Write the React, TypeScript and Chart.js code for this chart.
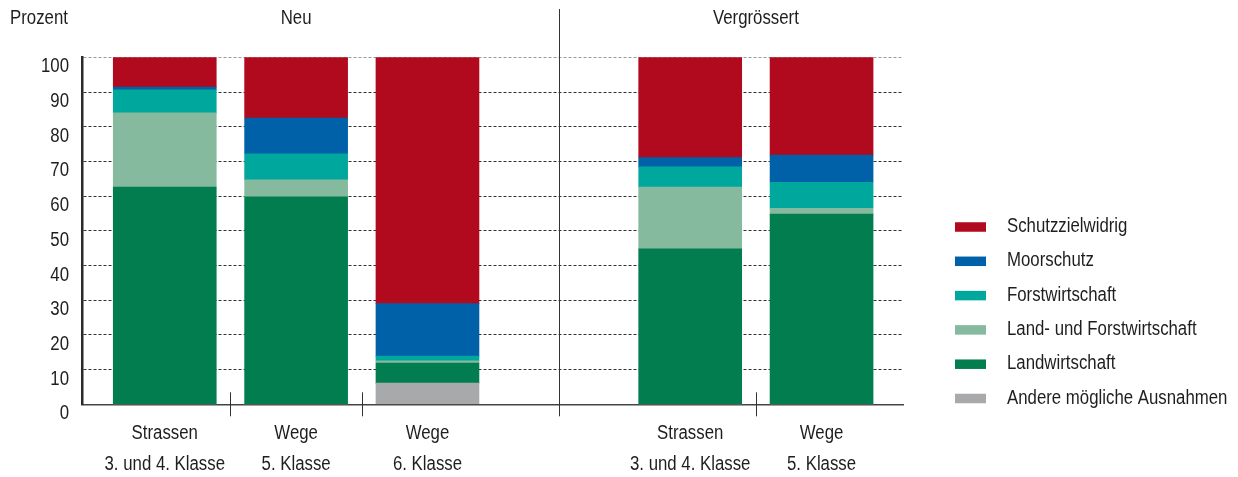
import React, { useEffect, useRef } from "react";
import { Chart, registerables } from "chart.js";

Chart.register(...registerables);

// Category labels, grouped by road status
const neuLabels: string[][] = [
  ["Strassen", "3. und 4. Klasse"],
  ["Wege", "5. Klasse"],
  ["Wege", "6. Klasse"],
];
const vergrLabels: string[][] = [
  ["Strassen", "3. und 4. Klasse"],
  ["Wege", "5. Klasse"],
];
const groupTitles = ["Neu", "Vergrössert"];
const yAxisTitle = "Prozent";

// Shares in percent, order: Neu (3 bars) then Vergrössert (2 bars)
const andereAusnahmen = [0, 0, 6.1, 0, 0];
const landwirtschaft = [62.6, 59.8, 5.8, 44.8, 54.8];
const landUndForst = [21.4, 4.9, 0.6, 17.8, 1.7];
const forstwirtschaft = [6.6, 7.5, 1.4, 5.8, 7.5];
const moorschutz = [0.8, 10.3, 15.1, 2.7, 7.8];
const schutzzielwidrig = [8.6, 17.5, 71.0, 28.9, 28.2];

const yTicks = [0, 10, 20, 30, 40, 50, 60, 70, 80, 90, 100];

// condensed look: regular sans squeezed horizontally
const FONT = "20px 'Liberation Sans', Arial, sans-serif";
const SQUEEZE = 0.84;
const TEXT = "#1e1e1e";

// Slot index of each bar: the groups are separated by one empty slot
const neuSlots = neuLabels.map((_, i) => i);
const vergrSlots = vergrLabels.map((_, i) => neuLabels.length + 1 + i);
const slots = [...neuSlots, ...vergrSlots];
const allLabels = [...neuLabels, ...vergrLabels];

const seriesDefs = [
  { label: "Andere mögliche Ausnahmen", values: andereAusnahmen, color: "#A8A9AB" },
  { label: "Landwirtschaft", values: landwirtschaft, color: "#027D4F" },
  { label: "Land- und Forstwirtschaft", values: landUndForst, color: "#86BA9F" },
  { label: "Forstwirtschaft", values: forstwirtschaft, color: "#00A79C" },
  { label: "Moorschutz", values: moorschutz, color: "#0061A8" },
  { label: "Schutzzielwidrig", values: schutzzielwidrig, color: "#B10A1E" },
];

function drawText(
  ctx: CanvasRenderingContext2D,
  text: string,
  x: number,
  y: number,
  align: CanvasTextAlign
) {
  ctx.save();
  ctx.translate(x, y);
  ctx.scale(SQUEEZE, 1);
  ctx.font = FONT;
  ctx.fillStyle = TEXT;
  ctx.textAlign = align;
  ctx.textBaseline = "middle";
  ctx.fillText(text, 0, 0);
  ctx.restore();
}

const overlayPlugin = {
  id: "overlay",
  afterDraw(chart: any) {
    const ctx = chart.ctx as CanvasRenderingContext2D;
    const xs = chart.scales.x;
    const ys = chart.scales.y;
    const area = chart.chartArea;
    ctx.save();

    // separators between bars of a group and between the groups
    ctx.strokeStyle = "#333333";
    ctx.lineWidth = 1;
    const shortMarks: number[] = [];
    for (let i = 1; i < neuSlots.length; i++) shortMarks.push((neuSlots[i - 1] + neuSlots[i]) / 2);
    for (let i = 1; i < vergrSlots.length; i++) shortMarks.push((vergrSlots[i - 1] + vergrSlots[i]) / 2);
    shortMarks.forEach((v) => {
      const px = Math.round(xs.getPixelForValue(v)) + 0.5;
      ctx.beginPath();
      ctx.moveTo(px, area.bottom - 12);
      ctx.lineTo(px, area.bottom + 12);
      ctx.stroke();
    });
    const dpx = Math.round(xs.getPixelForValue(neuLabels.length)) + 0.5;
    ctx.beginPath();
    ctx.moveTo(dpx, 9);
    ctx.lineTo(dpx, area.bottom + 12);
    ctx.stroke();

    // y tick labels, set slightly below their grid lines
    yTicks.forEach((v) => {
      drawText(ctx, String(v), area.left - 13, ys.getPixelForValue(v) + 9.5, "right");
    });

    // category labels, two lines each
    slots.forEach((s, i) => {
      const px = xs.getPixelForValue(s);
      drawText(ctx, allLabels[i][0], px, area.bottom + 29.5, "center");
      drawText(ctx, allLabels[i][1], px, area.bottom + 60.5, "center");
    });

    // titles above the plot
    drawText(ctx, yAxisTitle, 10, 18.5, "left");
    const neuCenter = (neuSlots[0] + neuSlots[neuSlots.length - 1]) / 2;
    const vergrCenter = (vergrSlots[0] + vergrSlots[vergrSlots.length - 1]) / 2;
    drawText(ctx, groupTitles[0], xs.getPixelForValue(neuCenter), 18.5, "center");
    drawText(ctx, groupTitles[1], xs.getPixelForValue(vergrCenter), 18.5, "center");

    // legend, top item is the top of the stack
    const items = [...chart.data.datasets].reverse();
    items.forEach((ds: any, i: number) => {
      const cy = 227 + i * 34.3;
      ctx.fillStyle = ds.backgroundColor;
      ctx.fillRect(955, cy - 4.75, 31, 9.5);
      drawText(ctx, ds.label, 1007, cy - 0.5, "left");
    });

    ctx.restore();
  },
};

export default function App() {
  const canvasRef = useRef<HTMLCanvasElement | null>(null);

  useEffect(() => {
    const canvas = canvasRef.current;
    if (!canvas) return;
    const chart = new Chart(canvas, {
      type: "bar",
      data: {
        datasets: seriesDefs.map((s) => ({
          label: s.label,
          data: s.values.map((v, i) => ({ x: slots[i], y: v })),
          backgroundColor: s.color,
          borderWidth: 0,
          barThickness: 103,
        })),
      },
      options: {
        responsive: false,
        animation: false,
        layout: { padding: { top: 57.3, right: 335, left: 0, bottom: 0 } },
        plugins: {
          legend: { display: false },
          tooltip: { enabled: false },
        },
        scales: {
          x: {
            type: "linear",
            stacked: true,
            offset: false,
            min: -0.63,
            max: 5.62,
            afterFit(scale: any) {
              scale.height = 72.7;
            },
            grid: { display: false, drawTicks: false, offset: false },
            border: { display: true, color: "#444444", width: 1.5 },
            ticks: { display: false },
          },
          y: {
            stacked: true,
            min: 0,
            max: 100,
            afterBuildTicks(scale: any) {
              scale.ticks = yTicks.map((v) => ({ value: v }));
            },
            afterFit(scale: any) {
              scale.width = 82;
            },
            grid: {
              drawTicks: false,
              lineWidth: 1,
              color: (c: any) => (c.tick && c.tick.value === 100 ? "#9a9a9a" : "#333333"),
            },
            border: { display: true, color: "#2a2a2a", width: 2.5, dash: [3, 2] as any },
            ticks: { display: false },
          },
        },
      },
      plugins: [overlayPlugin],
    } as any);
    return () => chart.destroy();
  }, []);

  return (
    <div style={{ position: "absolute", left: 0, top: 0, width: 1238, height: 477 }}>
      <canvas ref={canvasRef} width={1238} height={477} />
    </div>
  );
}
